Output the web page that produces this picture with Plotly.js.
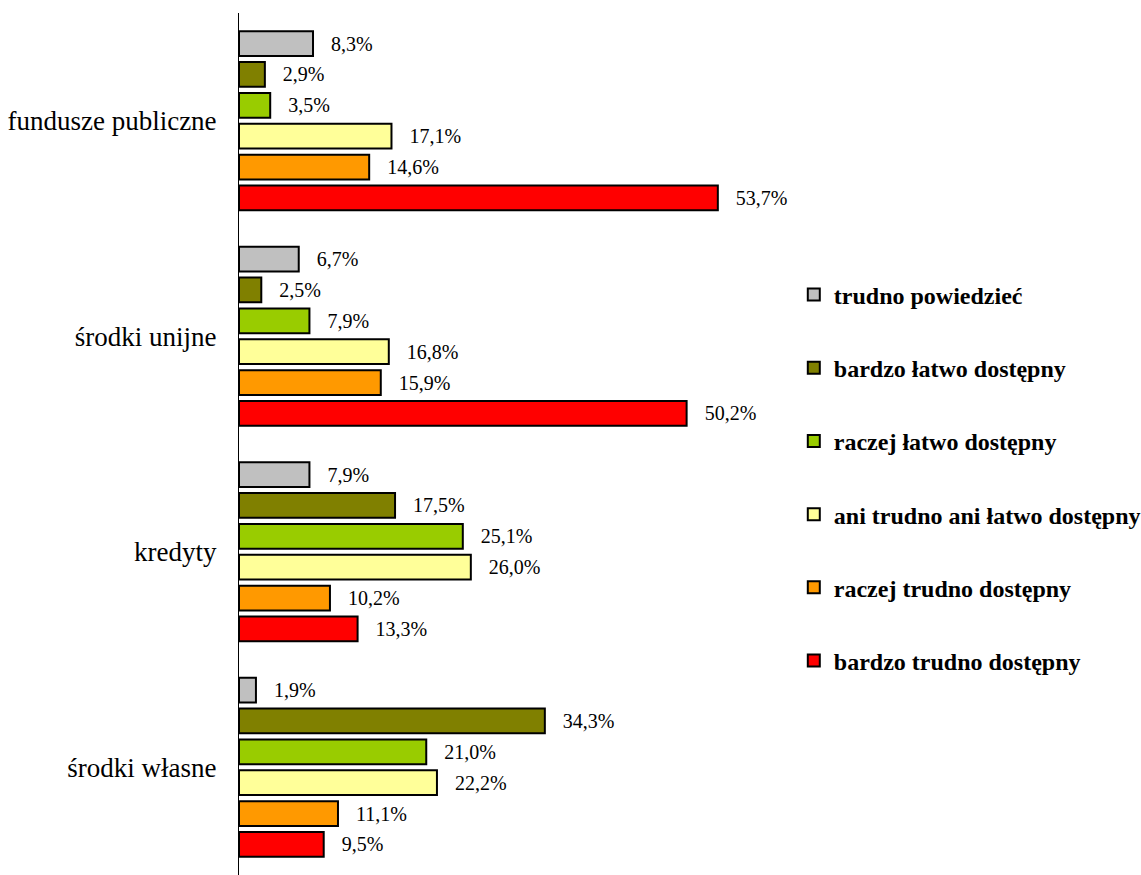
<!DOCTYPE html>
<html><head><meta charset="utf-8">
<script src="https://cdn.plot.ly/plotly-3.0.1.min.js"></script>
<style>html,body{margin:0;padding:0;background:#fff}</style>
</head><body>
<div id="chart" style="width:1141px;height:875px"></div>
<script>
const categories = ['fundusze publiczne','środki unijne','kredyty','środki własne'];
const seriesNames = ['trudno powiedzieć','bardzo łatwo dostępny','raczej łatwo dostępny','ani trudno ani łatwo dostępny','raczej trudno dostępny','bardzo trudno dostępny'];
const trudnoPowiedziec = [8.3, 6.7, 7.9, 1.9];
const bardzoLatwo = [2.9, 2.5, 17.5, 34.3];
const raczejLatwo = [3.5, 7.9, 25.1, 21.0];
const aniAni = [17.1, 16.8, 26.0, 22.2];
const raczejTrudno = [14.6, 15.9, 10.2, 11.1];
const bardzoTrudno = [53.7, 50.2, 13.3, 9.5];
const seriesValues = [trudnoPowiedziec, bardzoLatwo, raczejLatwo, aniAni, raczejTrudno, bardzoTrudno];
const colors = ['#C0C0C0','#808000','#99CC00','#FFFF99','#FF9900','#FF0000'];

const FONT = '"Liberation Serif", "Times New Roman", serif';
const fmt = v => '\u00a0\u00a0\u00a0' + v.toFixed(1).replace('.', ',') + '%';

const traces = seriesValues.map((vals, i) => ({
  type: 'bar',
  orientation: 'h',
  name: seriesNames[i],
  legendgroup: 'g' + i,
  x: vals,
  y: categories,
  text: vals.map(fmt),
  textposition: 'outside',
  constraintext: 'none',
  cliponaxis: false,
  textfont: {family: FONT, size: 20, color: '#000'},
  marker: {color: colors[i], line: {color: '#000', width: 2}},
  hoverinfo: 'none'
}));

const layout = {
  width: 1141, height: 875,
  margin: {l: 239, r: 367, t: 13, b: 0, autoexpand: false},
  paper_bgcolor: '#fff', plot_bgcolor: '#fff',
  barmode: 'group',
  bargap: 0.14,
  bargroupgap: 0.2,
  font: {family: FONT, color: '#000'},
  xaxis: {range: [0, 60], visible: false, showgrid: false, zeroline: false},
  yaxis: {
    autorange: 'reversed',
    showline: true, linecolor: '#000', linewidth: 1,
    ticks: '', showgrid: false, zeroline: false,
    ticklabelstandoff: 16,
    tickfont: {size: 27, color: '#000', family: FONT}
  },
  showlegend: true,
  legend: {
    x: 1.037, xanchor: 'left', y: 0.699, yanchor: 'top',
    traceorder: 'grouped',
    tracegroupgap: 39,
    itemwidth: 30,
    font: {size: 24, color: '#000', family: FONT, weight: 'bold'},
    bgcolor: 'rgba(0,0,0,0)'
  }
};

Plotly.newPlot('chart', traces, layout, {displayModeBar: false, staticPlot: true});
</script>
</body></html>
